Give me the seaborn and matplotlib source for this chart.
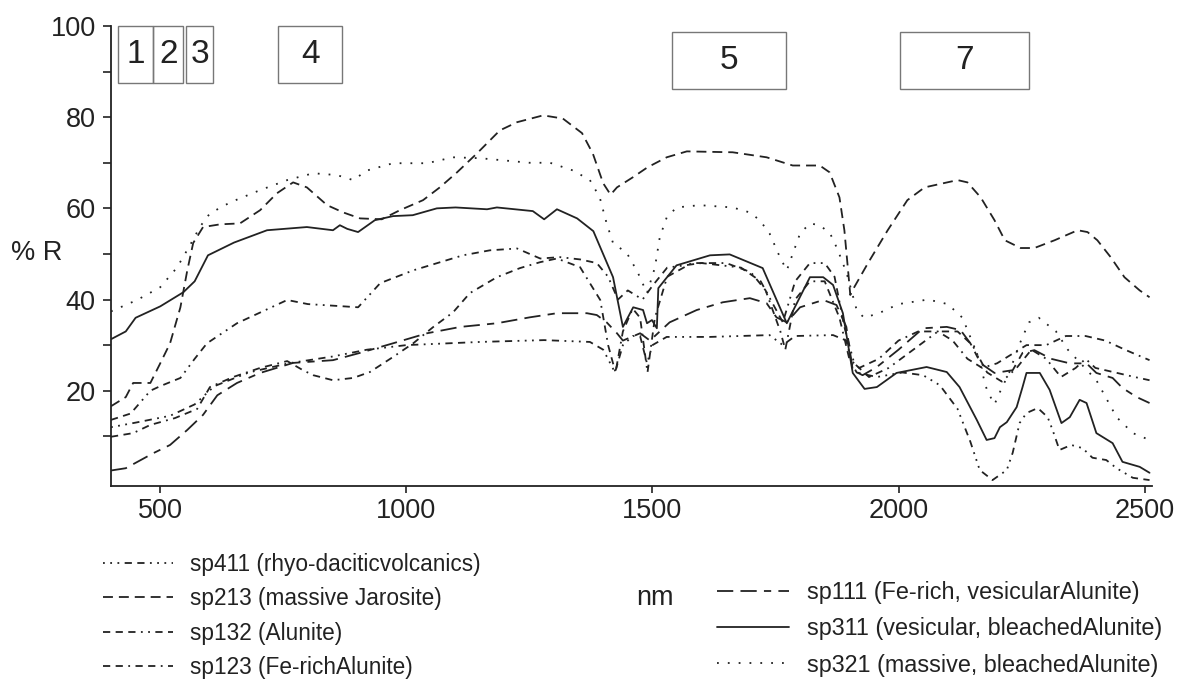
import numpy as np
import pandas as pd
import matplotlib
matplotlib.use("Agg")
import matplotlib.pyplot as plt
from matplotlib.patches import Rectangle
import seaborn as sns

sns.set_theme(style="white")
plt.rcParams['font.family'] = ['Liberation Sans', 'DejaVu Sans']

# ---- data (wavelength nm, reflectance %) ----
wl_311 = [400, 430, 450, 500, 547, 570, 597, 650, 717, 798, 851, 865, 880, 902, 936, 973, 1013, 1062,
          1100, 1164, 1184, 1257, 1280, 1306, 1347, 1380, 1420, 1440, 1461, 1481, 1489, 1499, 1509, 1512,
          1549, 1617, 1657, 1724, 1773, 1820, 1847, 1867, 1887, 1907, 1931, 1956, 1996, 2057, 2098, 2124,
          2159, 2179, 2195, 2206, 2220, 2240, 2252, 2260, 2287, 2307, 2331, 2348, 2368, 2382, 2402, 2435,
          2455, 2490, 2510]
r_311 = [31.3, 33, 36, 38.5, 41.6, 44, 49.7, 52.5, 55.2, 55.9, 55.2, 56.3, 55.5, 54.8, 57.4, 58.3, 58.5, 60,
         60.2, 59.8, 60.2, 59.4, 57.6, 59.8, 57.8, 55, 44.9, 34, 38.3, 37.7, 34.8, 35.5, 33.7, 42.5,
         47.5, 49.7, 49.9, 46.9, 34.8, 44.9, 44.9, 43.2, 37, 23.9, 20.4, 20.8, 23.9, 25.2, 24.1, 20.8,
         13.6, 9.2, 9.6, 12, 13.1, 16.4, 20.8, 23.9, 23.9, 20.2, 12.9, 14.2, 18, 17.3, 10.7, 8.5,
         4.4, 3.3, 2]

wl_213 = [400, 430, 445, 480, 500, 520, 541, 555, 567, 587, 622, 662, 703, 737, 770, 798, 839, 872, 906,
          950, 987, 1034, 1068, 1103, 1143, 1190, 1225, 1278, 1318, 1357, 1379, 1400, 1415, 1428, 1460,
          1490, 1529, 1570, 1663, 1732, 1785, 1840, 1860, 1880, 1890, 1897, 1902, 1910, 1938, 1978, 2018,
          2053, 2120, 2140, 2167, 2195, 2216, 2248, 2276, 2317, 2364, 2384, 2404, 2431, 2459, 2490, 2510]
r_213 = [16.6, 18.6, 21.7, 21.7, 26, 30.4, 38.3, 46.4, 52.4, 55.9, 56.5, 56.7, 59.6, 63.3, 65.7, 64.6, 60.7,
         59.1, 57.8, 57.6, 59.6, 61.8, 64.6, 67.9, 72, 77.1, 78.9, 80.4, 79.7, 76.5, 72, 65.5, 63, 64.6,
         66.8, 69, 71.2, 72.5, 72.3, 71.2, 69.4, 69.4, 67.9, 62.4, 55.2, 47, 41, 42.7, 48, 55.2, 61.8,
         64.6, 66.2, 65.7, 62.4, 57.4, 53, 51.3, 51.3, 53, 55.2, 54.8, 53, 49.3, 44.9, 42, 40.5]

wl_321 = [400, 453, 500, 534, 561, 581, 601, 642, 703, 758, 811, 859, 892, 920, 973, 1042, 1095, 1150,
          1200, 1250, 1292, 1339, 1373, 1393, 1407, 1420, 1448, 1470, 1489, 1505, 1515, 1529, 1549, 1596,
          1663, 1698, 1718, 1738, 1759, 1773, 1785, 1800, 1820, 1840, 1861, 1874, 1887, 1897, 1915, 1930,
          1960, 2000, 2060, 2100, 2130, 2160, 2180, 2195, 2206, 2225, 2245, 2265, 2285, 2320, 2344, 2370,
          2402, 2443, 2476, 2510]
r_321 = [37.4, 39.9, 42.7, 47, 52, 56, 58.9, 61.3, 64, 66.2, 67.7, 67.3, 66.2, 68.3, 69.9, 69.9, 71.2, 71,
         70.5, 70, 70, 68.3, 66.2, 62.4, 56.7, 52.4, 50.2, 46, 41.4, 47, 53.7, 58, 60.2, 60.7,
         60.2, 59.1, 57.4, 54.5, 49.3, 46.4, 50, 54.5, 56.7, 56.3, 54.5, 51.5, 48, 44.9, 37.7, 36,
         37, 39, 40, 39, 36, 28, 20, 17, 19.7, 24, 30, 35, 36, 33, 29, 26,
         22.3, 14.2, 10.7, 9.2]

wl_111 = [400, 430, 486, 520, 555, 587, 616, 656, 703, 770, 851, 906, 973, 1042, 1110, 1184, 1251, 1306,
          1367, 1387, 1407, 1428, 1440, 1475, 1495, 1515, 1535, 1590, 1643, 1698, 1732, 1752, 1773, 1800,
          1847, 1874, 1894, 1907, 1927, 1956, 2000, 2050, 2098, 2126, 2146, 2167, 2195, 2232, 2252, 2276,
          2310, 2348, 2382, 2402, 2435, 2455, 2484, 2510]
r_111 = [2.5, 3, 6.3, 8.1, 11.4, 14.7, 19, 21.7, 23.9, 26.1, 26.7, 28.3, 30.4, 32.6, 34, 34.8, 36.1, 37,
         37, 36.6, 35, 32.6, 31, 32.6, 31, 33, 35, 37.7, 39.4, 40.3, 39.2, 36.1, 35, 38.3,
         39.9, 38.8, 34, 24.5, 23.4, 25.2, 29, 33.7, 34, 33.3, 30.4, 26, 23.9, 24.5, 28.3, 28.9,
         27, 26, 26, 23.9, 22.8, 20.6, 18.6, 17.3]

wl_411 = [400, 450, 520, 570, 610, 680, 760, 850, 920, 1000, 1150, 1280, 1373, 1400, 1424, 1440, 1460,
          1475, 1489, 1500, 1529, 1617, 1738, 1765, 1790, 1867, 1894, 1905, 1915, 1956, 2008, 2050, 2084,
          2120, 2146, 2165, 2191, 2220, 2232, 2246, 2260, 2283, 2303, 2313, 2327, 2351, 2374, 2394, 2422,
          2443, 2476, 2510]
r_411 = [12, 13, 14.5, 17, 21, 24, 26, 27.5, 29, 30, 30.7, 31.1, 30.7, 29, 24, 30, 32,
         32, 26, 30, 31.8, 31.8, 32.2, 30, 32, 32.2, 31, 26, 24, 23, 24, 23.4, 21.2,
         16, 8.8, 2.6, 0.4, 2.6, 6.4, 12.9, 15.1, 16.2, 14.2, 11.4, 7, 8.1, 7.4, 5.3, 4.8,
         3, 0.9, 0.4]

wl_123 = [400, 445, 480, 530, 575, 601, 648, 703, 758, 790, 811, 851, 892, 926, 973, 1014, 1055, 1095,
          1129, 1184, 1231, 1272, 1306, 1353, 1394, 1410, 1425, 1440, 1460, 1475, 1490, 1505, 1530, 1580,
          1650, 1700, 1730, 1760, 1770, 1790, 1820, 1850, 1880, 1900, 1920, 1960, 2000, 2040, 2080, 2110,
          2140, 2170, 2200, 2230, 2260, 2300, 2340, 2380, 2420, 2460, 2510]
r_123 = [9.9, 10.7, 12.5, 14, 16, 20.8, 23, 25, 26.5, 24.5, 23.4, 22.3, 22.8, 24.1, 27.4, 30.4, 34, 37.2,
         41.4, 44.9, 46.9, 48.2, 49, 47.1, 39.9, 30, 24, 33, 38, 36, 24, 36, 45, 48,
         48, 46, 42, 33, 29, 40, 44, 44, 36, 27, 25, 27, 31, 33, 33, 31,
         27, 25, 26, 28, 30, 30, 32, 32, 31, 29, 26.7]

wl_132 = [400, 440, 480, 500, 541, 570, 595, 656, 700, 758, 800, 859, 902, 947, 1014, 1115, 1170, 1225,
          1272, 1312, 1353, 1387, 1410, 1430, 1450, 1480, 1500, 1530, 1600, 1680, 1720, 1750, 1765, 1790,
          1820, 1850, 1870, 1890, 1910, 1940, 1980, 2030, 2080, 2120, 2150, 2180, 2210, 2240, 2270, 2300,
          2330, 2360, 2380, 2400, 2440, 2480, 2510]
r_132 = [13.6, 15, 20, 21, 22.8, 27, 30.4, 34.8, 37, 39.9, 39, 38.6, 38.3, 43.6, 46.4, 49.7, 50.8, 51.2,
         49, 49.3, 48.8, 48, 45, 40, 42, 40, 43, 47, 48, 47, 44, 38, 35, 44,
         48, 48, 45, 34, 26, 23, 25, 29, 33, 33, 30, 24, 22, 25, 29, 27,
         23, 25, 27, 25, 24, 23, 22.3]

left_names = ["sp411 (rhyo-daciticvolcanics)", "sp213 (massive Jarosite)",
              "sp132 (Alunite)", "sp123 (Fe-richAlunite)"]
right_names = ["sp111 (Fe-rich, vesicularAlunite)", "sp311 (vesicular, bleachedAlunite)",
               "sp321 (massive, bleachedAlunite)"]

box_labels = ["1", "2", "3", "4", "5", "7"]
box_x0 = [415, 486, 553, 740, 1540, 2003]
box_x1 = [486, 547, 607, 870, 1771, 2265]

series = {
    left_names[0]: (wl_411, r_411),
    left_names[1]: (wl_213, r_213),
    left_names[2]: (wl_132, r_132),
    left_names[3]: (wl_123, r_123),
    right_names[0]: (wl_111, r_111),
    right_names[1]: (wl_311, r_311),
    right_names[2]: (wl_321, r_321),
}
styles = {
    left_names[0]: (0, (1, 3, 1, 3, 1, 3, 4, 3, 4, 3)),
    left_names[1]: (0, (5.5, 3.3)),
    left_names[2]: (0, (4, 3, 4, 3, 4, 3, 1, 3, 1, 3)),
    left_names[3]: (0, (4, 3, 4, 3, 1, 3)),
    right_names[0]: (0, (9, 4, 9, 4, 4, 4)),
    right_names[1]: "-",
    right_names[2]: (0, (1, 5)),
}

rows = []
for name, (w, r) in series.items():
    rows += [{"nm": a, "R": b, "sample": name} for a, b in zip(w, r)]
df = pd.DataFrame(rows)

fig = plt.figure(figsize=(11.85, 6.82), dpi=100)
ax = fig.add_axes([111 / 1185, (682 - 486) / 682, 1041 / 1185, 460 / 682])

lc = "#222222"
handles = {}
for name in series:
    sub = df[df["sample"] == name]
    sns.lineplot(data=sub, x="nm", y="R", ax=ax, color=lc, lw=1.3,
                 linestyle=styles[name], sort=False, estimator=None, legend=False)
    handles[name] = ax.lines[-1]

# numbered boxes on top
for lab, a, b in zip(box_labels, box_x0, box_x1):
    top = 100 if lab in "1234" else 98.7
    bot = 87.5 if lab in "1234" else 86.1
    ax.add_patch(Rectangle((a, bot), b - a, top - bot, fill=False, ec="#777777", lw=1.0, clip_on=False))
    ax.text((a + b) / 2, (top + bot) / 2, lab, ha="center", va="center", fontsize=24, color=lc)

ax.set_xlim(400, 2515)
ax.set_ylim(-0.9, 100)
ax.set_xticks([500, 1000, 1500, 2000, 2500])
ax.set_yticks([20, 40, 60, 80, 100])
ax.set_yticks([10, 30, 50, 70, 90], minor=True)
ax.tick_params(axis="both", which="both", direction="out", color=lc, labelcolor=lc, labelsize=19.5)
ax.tick_params(axis="y", which="both", length=6, width=1.2, left=True, pad=5)
ax.tick_params(axis="x", which="major", length=5, width=1.2, bottom=True, pad=4)
for s in ["top", "right"]:
    ax.spines[s].set_visible(False)
for s in ["left", "bottom"]:
    ax.spines[s].set_color(lc)
    ax.spines[s].set_linewidth(1.3)
ax.set_xlabel("")
ax.set_ylabel("")
fig.text(655 / 1185, 1 - 598 / 682, "nm", ha="center", va="center", fontsize=19.5, color=lc)
fig.text(37 / 1185, 1 - 253 / 682, "% R", ha="center", va="center", fontsize=19.5, color=lc)

leg_kw = dict(frameon=False, handlelength=3.1, handletextpad=0.75,
              borderpad=0, borderaxespad=0, labelcolor=lc)
fig.legend([handles[n] for n in left_names], left_names, loc="upper left", fontsize=16.3,
           labelspacing=0.5, bbox_to_anchor=(103 / 1185, 1 - 553 / 682), **leg_kw)
fig.legend([handles[n] for n in right_names], right_names, loc="upper left", fontsize=16.8,
           labelspacing=0.57, bbox_to_anchor=(717 / 1185, 1 - 581 / 682), **leg_kw)

fig.savefig("out.png", dpi=100)
